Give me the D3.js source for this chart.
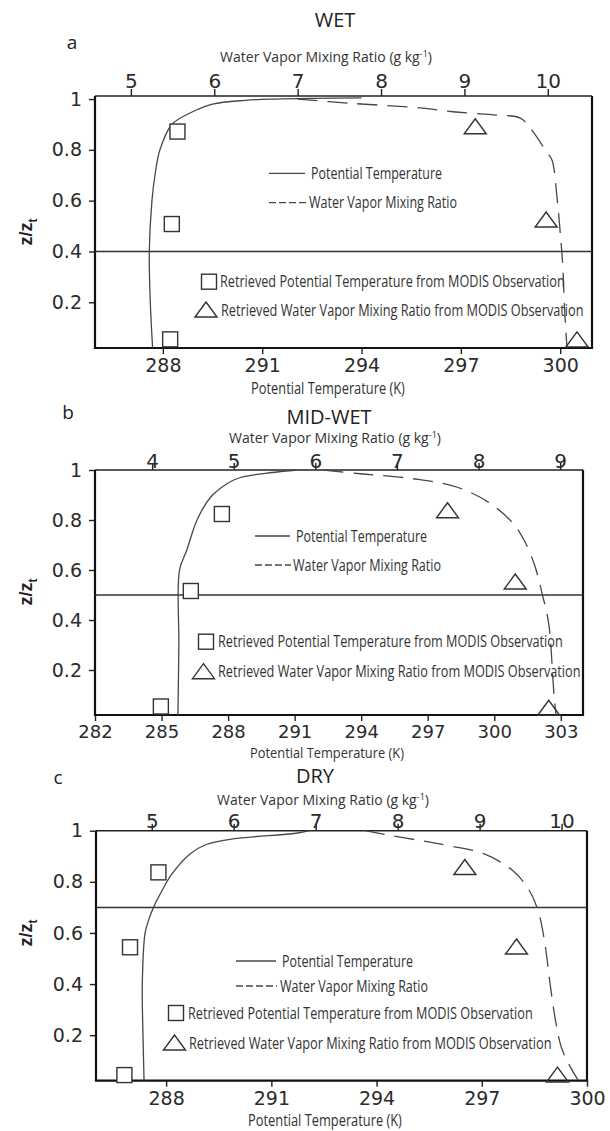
<!DOCTYPE html>
<html>
<head>
<meta charset="utf-8">
<title>z/zt profiles</title>
<script src="https://d3js.org/d3.v7.min.js"></script>
<style>
  html, body { margin: 0; background: #fff; }
  .tick text { font-family: "DejaVu Sans", sans-serif; fill: #2b2b2b; }
  .narrow { font-family: "Open Sans", sans-serif; fill: #333; }
  .head { font-family: "Open Sans", sans-serif; fill: #222; }
</style>
</head>
<body>
<svg id="svg"></svg>
<script>
const panelNames = ["WET", "MID-WET", "DRY"];
const panelLetters = ["a", "b", "c"];
const zTicks = [0.2, 0.4, 0.6, 0.8, 1];
const thetaTicksA = [288, 291, 294, 297, 300];
const thetaTicksB = [282, 285, 288, 291, 294, 297, 300, 303];
const thetaTicksC = [288, 291, 294, 297, 300];
const qTicksA = [5, 6, 7, 8, 9, 10];
const qTicksB = [4, 5, 6, 7, 8, 9];
const qTicksC = [5, 6, 7, 8, 9, 10];
const boundaryZ = [0.4, 0.5, 0.7];

// potential temperature profiles: [theta (K), z/zt]
const thetaA = [[287.69,0.02],[287.62,0.2],[287.59,0.4],[287.67,0.6],[287.76,0.7],[287.91,0.8],[288.27,0.9],[288.82,0.945],[289.5,0.98],[290.5,0.995],[291.4,1.0],[292.6,1.003],[294,1.005]];
const thetaB = [[285.74,0.02],[285.78,0.3],[285.81,0.6],[286.14,0.68],[286.6,0.8],[287.2,0.89],[287.95,0.945],[288.55,0.97],[290,0.99],[291.1,1.0]];
const thetaC = [[287.37,0.022],[287.34,0.2],[287.32,0.4],[287.4,0.6],[287.5,0.65],[287.64,0.7],[287.88,0.765],[288.16,0.83],[288.69,0.91],[289.16,0.947],[289.9,0.968],[291.7,0.99],[292.1,1.0]];

// water vapor mixing ratio profiles: [q (g/kg), z/zt]
const qA = [[7.0,1.0],[7.6,0.984],[8.47,0.965],[8.86,0.95],[9.39,0.937],[9.67,0.925],[9.79,0.886],[9.99,0.79],[10.05,0.76],[10.11,0.614],[10.15,0.47],[10.18,0.34],[10.2,0.18],[10.23,0.02]];
const qB = [[6.1,1.0],[6.55,0.985],[7.2,0.965],[7.75,0.93],[8.15,0.865],[8.43,0.784],[8.56,0.718],[8.68,0.626],[8.74,0.559],[8.79,0.49],[8.83,0.44],[8.87,0.36],[8.89,0.28],[8.91,0.17],[8.93,0.08],[8.95,0.02]];
const qC = [[7.6,1.0],[7.85,0.985],[8.3,0.96],[8.65,0.94],[9.05,0.91],[9.4,0.845],[9.6,0.77],[9.72,0.68],[9.8,0.55],[9.86,0.4],[9.93,0.25],[10.0,0.15],[10.1,0.08],[10.2,0.025]];

// MODIS retrievals
const sqObsA = [[288.44,0.872],[288.27,0.508],[288.22,0.054]];
const sqObsB = [[287.72,0.824],[286.32,0.516],[284.97,0.054]];
const sqObsC = [[287.78,0.837],[286.97,0.544],[286.81,0.044]];
const triObsA = [[9.13,0.891],[9.98,0.524],[10.35,0.052]];
const triObsB = [[7.62,0.837],[8.45,0.552],[8.86,0.047]];
const triObsC = [[8.82,0.856],[9.45,0.545],[9.95,0.044]];

const legendLabels = ["Potential Temperature", "Water Vapor Mixing Ratio",
  "Retrieved Potential Temperature from MODIS Observation",
  "Retrieved Water Vapor Mixing Ratio from MODIS Observation"];

const panelData = [
  {theta: thetaA, q: qA, sq: sqObsA, tri: triObsA, tTicks: thetaTicksA, qTicks: qTicksA},
  {theta: thetaB, q: qB, sq: sqObsB, tri: triObsB, tTicks: thetaTicksB, qTicks: qTicksB},
  {theta: thetaC, q: qC, sq: sqObsC, tri: triObsC, tTicks: thetaTicksC, qTicks: qTicksC}
];

const layout = [
  {x0: 95, x1: 592, y0: 96, y1: 348, zDom: [0.02, 1.012], tDom: [285.95, 300.96], qDom: [4.57, 10.53],
   name: [335, 27], letter: [72, 49], wv: [326, 57], topGap: 8, botFont: 19, botPad: 5, tTitle: [328, 388], tSize: 16, zLabel: [32, 232],
   leg: {lx: [269, 305], y1: 173.3, y2: 202.7, tx1: 311, tx2: 309, sqx: 209, sqy: 281.7, sqtx: 220, trix: 206, triy: 310, tritx: 221}},
  {x0: 95, x1: 583, y0: 470, y1: 715, zDom: [0.02, 1.0], tDom: [282, 304], qDom: [3.30, 9.28],
   name: [329, 424], letter: [68, 419], wv: [335, 438], topGap: 2, botFont: 18, botPad: 4, tTitle: [327, 753], tSize: 15, zLabel: [32, 592],
   leg: {lx: [255, 290], y1: 536, y2: 565, tx1: 296, tx2: 293, sqx: 206, sqy: 641.7, sqtx: 218, trix: 203.5, triy: 671.7, tritx: 218}},
  {x0: 96, x1: 587, y0: 830.7, y1: 1080.7, zDom: [0.022, 1.0], tDom: [286, 300], qDom: [4.32, 10.31],
   name: [315, 783], letter: [58, 784], wv: [323, 800], topGap: 3, botFont: 19, botPad: 5, tTitle: [325, 1120], tSize: 16, zLabel: [32, 933],
   leg: {lx: [236, 276], y1: 961, y2: 986, tx1: 282, tx2: 280, sqx: 176, sqy: 1013, sqtx: 188, trix: 174.5, triy: 1043, tritx: 189}}
];

// widths of the condensed texts in the figure
const legendWidths = [131, 148, 345, 363];
const wvTitleWidth = 212;
const tTitleWidth = 154;

const svg = d3.select("#svg").attr("width", 610).attr("height", 1131);
const lineColor = "#474747";

const triPath = (cx, cy) => `M${cx - 11},${cy + 7}L${cx + 11},${cy + 7}L${cx},${cy - 8}Z`;

// draws a text squeezed horizontally to a given width (condensed look)
function fitText(parent, x, y, anchor, width, size, build) {
  const g = parent.append("g");
  const txt = g.append("text").attr("class", "narrow")
    .attr("font-size", size).attr("text-anchor", anchor).attr("dy", "0.35em");
  build(txt);
  const w = txt.node().getBBox().width;
  g.attr("transform", `translate(${x},${y}) scale(${width / w},1)`);
  return g;
}

panelData.forEach((d, i) => {
  const L = layout[i];
  const g = svg.append("g");

  const t = d3.scaleLinear().domain(L.tDom).range([L.x0, L.x1]);
  const q = d3.scaleLinear().domain(L.qDom).range([L.x0, L.x1]);
  const z = d3.scaleLinear().domain(L.zDom).range([L.y1, L.y0]);

  // axes
  const ax = g.append("g").attr("transform", `translate(0,${L.y1})`)
    .call(d3.axisBottom(t).tickValues(d.tTicks).tickSize(6).tickPadding(L.botPad).tickFormat(d3.format("d")));
  ax.selectAll("text").attr("font-size", L.botFont);

  const axTop = g.append("g").attr("transform", `translate(0,${L.y0})`)
    .call(d3.axisTop(q).tickValues(d.qTicks).tickSize(7).tickFormat(d3.format("d")));
  axTop.selectAll("text").attr("font-size", 20).attr("y", -L.topGap);

  const ay = g.append("g").attr("transform", `translate(${L.x0},0)`)
    .call(d3.axisLeft(z).tickValues(zTicks).tickSize(6).tickPadding(7).tickFormat(v => v === 1 ? "1" : v.toFixed(1)));
  ay.selectAll("text").attr("font-size", 19);

  [ax, axTop, ay].forEach(a => {
    a.select(".domain").remove();
    a.selectAll("line").attr("stroke", "#222").attr("stroke-width", 1.4);
  });

  // frame
  g.append("line").attr("x1", L.x0).attr("x2", L.x1).attr("y1", L.y0).attr("y2", L.y0)
    .attr("stroke", "#222").attr("stroke-width", 1.5);
  g.append("path")
    .attr("d", `M${L.x0},${L.y0}V${L.y1}H${L.x1}V${L.y0}`)
    .attr("fill", "none").attr("stroke", "#111").attr("stroke-width", 2.2);

  // boundary line
  g.append("line").attr("x1", L.x0).attr("x2", L.x1)
    .attr("y1", z(boundaryZ[i])).attr("y2", z(boundaryZ[i]))
    .attr("stroke", "#333").attr("stroke-width", 1.5);

  // profiles
  const thetaLine = d3.line().x(p => t(p[0])).y(p => z(p[1])).curve(d3.curveCatmullRom.alpha(0.5));
  const qLine = d3.line().x(p => q(p[0])).y(p => z(p[1])).curve(d3.curveCatmullRom.alpha(0.5));

  g.append("path").attr("d", thetaLine(d.theta))
    .attr("fill", "none").attr("stroke", lineColor).attr("stroke-width", 1.3);
  g.append("path").attr("d", qLine(d.q))
    .attr("fill", "none").attr("stroke", lineColor).attr("stroke-width", 1.3)
    .attr("stroke-dasharray", "20,10");

  // retrievals
  g.selectAll("rect.obs").data(d.sq).join("rect").attr("class", "obs")
    .attr("x", p => t(p[0]) - 7.5).attr("y", p => z(p[1]) - 7.5)
    .attr("width", 15).attr("height", 15)
    .attr("fill", "#fff").attr("stroke", "#333").attr("stroke-width", 1.4);
  g.selectAll("path.tri").data(d.tri).join("path").attr("class", "tri")
    .attr("d", p => triPath(q(p[0]), z(p[1])))
    .attr("fill", "none").attr("stroke", "#333").attr("stroke-width", 1.4);

  // legend
  const lg = L.leg;
  g.append("line").attr("x1", lg.lx[0]).attr("x2", lg.lx[1]).attr("y1", lg.y1).attr("y2", lg.y1)
    .attr("stroke", lineColor).attr("stroke-width", 1.3);
  g.append("line").attr("x1", lg.lx[0]).attr("x2", lg.lx[1] + 1).attr("y1", lg.y2).attr("y2", lg.y2)
    .attr("stroke", lineColor).attr("stroke-width", 1.3).attr("stroke-dasharray", "7,3");
  g.append("rect").attr("x", lg.sqx - 7.5).attr("y", lg.sqy - 7.5).attr("width", 15).attr("height", 15)
    .attr("fill", "none").attr("stroke", "#333").attr("stroke-width", 1.4);
  g.append("path").attr("d", triPath(lg.trix, lg.triy))
    .attr("fill", "none").attr("stroke", "#333").attr("stroke-width", 1.4);

  const legRows = [[lg.tx1, lg.y1], [lg.tx2, lg.y2], [lg.sqtx, lg.sqy], [lg.tritx, lg.triy]];
  legRows.forEach((r, k) => {
    fitText(g, r[0], r[1], "start", legendWidths[k], 16, s => s.text(legendLabels[k]));
  });

  // titles
  g.append("text").attr("class", "head").attr("x", L.name[0]).attr("y", L.name[1])
    .attr("text-anchor", "middle").attr("font-size", 20).text(panelNames[i]);
  g.append("text").attr("class", "head").attr("x", L.letter[0]).attr("y", L.letter[1])
    .attr("text-anchor", "middle").attr("font-size", 19).text(panelLetters[i]);

  fitText(g, L.wv[0], L.wv[1], "middle", wvTitleWidth, 14, s => {
    s.append("tspan").text("Water Vapor Mixing Ratio (g kg");
    s.append("tspan").attr("font-size", 9).attr("dy", -5).text("-1");
    s.append("tspan").attr("dy", 5).text(")");
  });

  fitText(g, L.tTitle[0], L.tTitle[1], "middle", tTitleWidth, L.tSize, s => s.text("Potential Temperature (K)"));

  const zl = g.append("text")
    .attr("transform", `translate(${L.zLabel[0]},${L.zLabel[1]}) rotate(-90)`)
    .attr("text-anchor", "middle")
    .attr("font-family", "Liberation Sans, Arial, sans-serif").attr("font-weight", "bold")
    .attr("font-size", 18).attr("fill", "#222");
  zl.append("tspan").text("z/z");
  zl.append("tspan").attr("font-size", 12).attr("dy", 5).text("t");
});
</script>
</body>
</html>
